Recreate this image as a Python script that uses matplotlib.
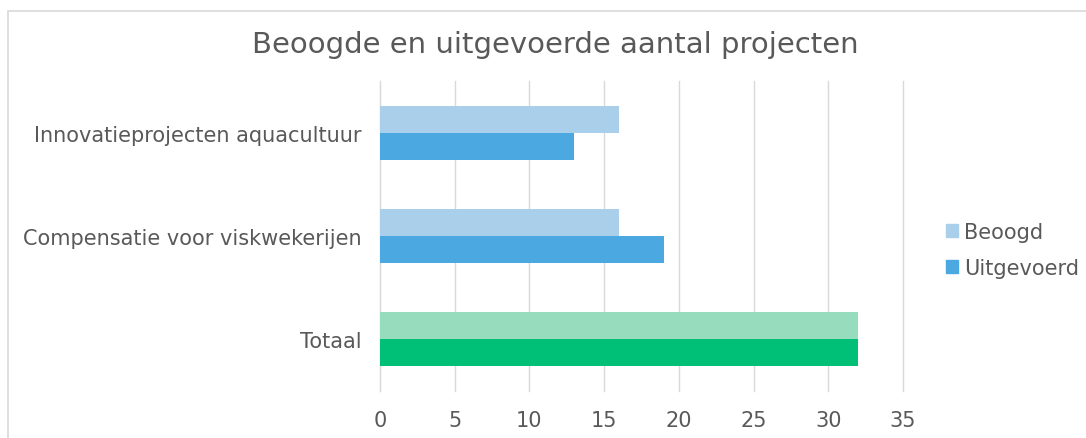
import numpy as np
import matplotlib.pyplot as plt
from matplotlib.patches import Rectangle

categories = ['Innovatieprojecten aquacultuur', 'Compensatie voor viskwekerijen', 'Totaal']
beoogd = [16, 16, 32]
uitgevoerd = [13, 19, 32]
xticks = [0, 5, 10, 15, 20, 25, 30, 35]

light_cols = ['#A9CFEA', '#A9CFEA', '#97DCBC']
dark_cols = ['#4BA8E0', '#4BA8E0', '#00BF76']

plt.rcParams['font.family'] = ['DejaVu Sans']
fig = plt.figure(figsize=(10.86, 4.39), dpi=100)

# outer chart frame
fig.patches.append(Rectangle((8/1086, -0.01), 1.02, 1 - 12/439 + 0.01,
                             transform=fig.transFigure, fill=False,
                             edgecolor='#D9D9D9', linewidth=1.2))

ax = fig.add_axes([380/1086, 1 - 392/439, (903 - 380)/1086, (392 - 82)/439])

y = np.arange(len(categories))
h = 0.26
ax.barh(y - h/2, beoogd, height=h, color=light_cols, label='Beoogd', zorder=3)
ax.barh(y + h/2, uitgevoerd, height=h, color=dark_cols, label='Uitgevoerd', zorder=3)

ax.set_xlim(0, 35)
ax.set_ylim(len(categories) - 0.5, -0.5)
ax.set_xticks(xticks)
ax.set_yticks(y)
ax.set_yticklabels(categories)
ax.tick_params(axis='both', length=0, labelsize=15, labelcolor='#595959')
ax.tick_params(axis='x', pad=14)
ax.tick_params(axis='y', pad=13)
ax.grid(axis='x', color='#D9D9D9', linewidth=1, zorder=0)
for gl in ax.get_xgridlines():
    gl.set_clip_on(False)
for s in ['top', 'right', 'bottom']:
    ax.spines[s].set_visible(False)
ax.spines['left'].set_color('#D9D9D9')

fig.text(555/1086, 1 - 45/439, 'Beoogde en uitgevoerde aantal projecten',
         ha='center', va='center', fontsize=21, color='#595959')

handles = [Rectangle((0, 0), 1, 1, color='#A9CFEA'), Rectangle((0, 0), 1, 1, color='#4BA8E0')]
fig.legend(handles, ['Beoogd', 'Uitgevoerd'], loc='center left',
           bbox_to_anchor=(927/1086, 1 - 251/439), frameon=False,
           fontsize=15, labelcolor='#595959', handlelength=0.6, handleheight=0.6,
           handletextpad=0.3, labelspacing=0.75)

fig.savefig('out.png', dpi=100)
